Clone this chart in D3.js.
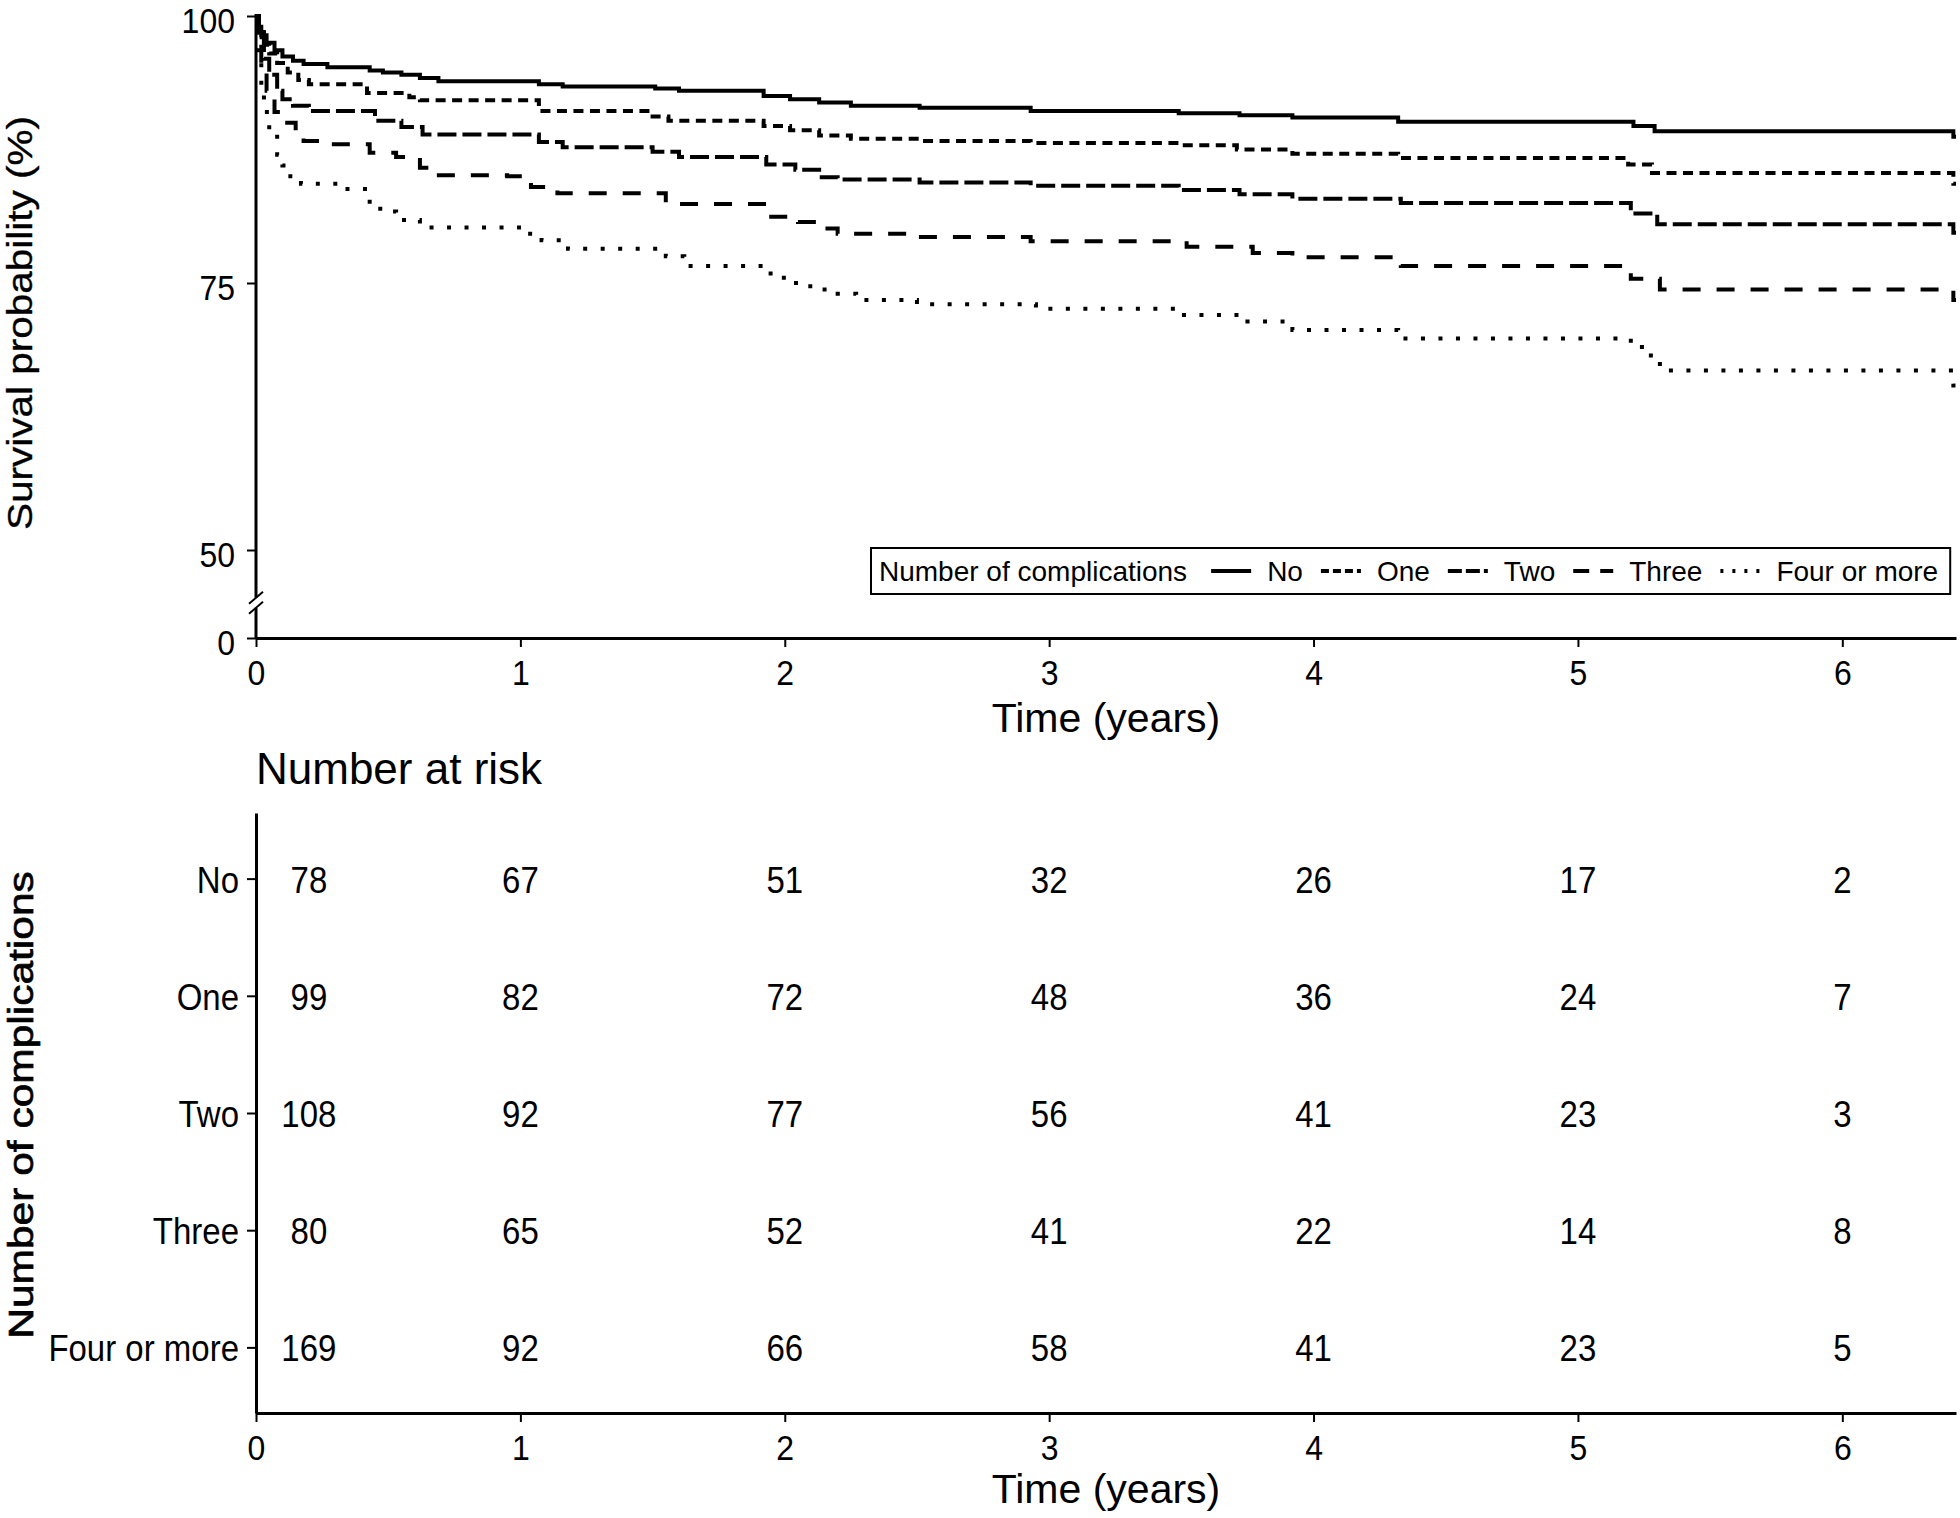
<!DOCTYPE html>
<html>
<head>
<meta charset="utf-8">
<script src="https://cdn.jsdelivr.net/npm/d3@7"></script>
<style>
  html, body { margin: 0; padding: 0; background: #fff; }
  svg { display: block; }
  text { font-family: "Liberation Sans", Arial, sans-serif; fill: #000; }
</style>
</head>
<body>
<svg id="chart" width="1960" height="1518"></svg>
<script>
// ---------------- DATA ----------------
const groups = ["No", "One", "Two", "Three", "Four or more"];
const xTicks = [0, 1, 2, 3, 4, 5, 6];
const yTicks = [0, 50, 75, 100];
const maxTime = 6.43;

const timesNo = [0, 0.01, 0.02, 0.04, 0.07, 0.10, 0.14, 0.18, 0.27, 0.43, 0.48, 0.55, 0.62, 0.69, 1.07, 1.16, 1.51, 1.60, 1.92, 2.02, 2.13, 2.25, 2.51, 2.93, 3.49, 3.72, 3.92, 4.32, 5.21, 5.29, 6.42];
const survNo  = [100, 99.0, 98.2, 97.5, 96.8, 96.2, 95.8, 95.5, 95.2, 94.9, 94.7, 94.5, 94.2, 93.9, 93.6, 93.4, 93.2, 93.0, 92.5, 92.2, 91.9, 91.6, 91.4, 91.1, 90.9, 90.7, 90.5, 90.1, 89.7, 89.2, 88.7];

const timesOne = [0, 0.01, 0.03, 0.05, 0.08, 0.12, 0.16, 0.20, 0.42, 0.58, 0.62, 1.07, 1.50, 1.56, 1.92, 2.02, 2.13, 2.25, 2.51, 2.93, 3.49, 3.71, 3.92, 4.32, 5.19, 5.28, 6.42];
const survOne  = [100, 98.5, 97.3, 96.5, 95.6, 94.7, 94.0, 93.6, 92.8, 92.4, 92.1, 91.1, 90.6, 90.2, 89.7, 89.3, 88.8, 88.5, 88.3, 88.1, 87.9, 87.5, 87.1, 86.7, 86.1, 85.3, 84.3];

const timesTwo = [0, 0.01, 0.03, 0.05, 0.08, 0.10, 0.14, 0.20, 0.45, 0.55, 0.63, 1.07, 1.16, 1.50, 1.60, 1.93, 2.04, 2.13, 2.20, 2.51, 2.93, 3.49, 3.72, 3.92, 4.33, 5.20, 5.30, 6.42];
const survTwo  = [100, 98.0, 96.0, 94.5, 93.0, 92.2, 91.6, 91.1, 90.2, 89.6, 88.9, 88.2, 87.7, 87.3, 86.8, 86.1, 85.6, 84.9, 84.7, 84.4, 84.1, 83.7, 83.3, 82.9, 82.5, 81.5, 80.5, 79.7];

const timesThree = [0, 0.01, 0.02, 0.04, 0.07, 0.10, 0.15, 0.18, 0.27, 0.43, 0.53, 0.62, 0.66, 0.95, 1.04, 1.14, 1.55, 1.93, 2.05, 2.14, 2.20, 2.50, 2.93, 3.52, 3.77, 3.92, 4.33, 5.20, 5.31, 6.42];
const survThree  = [100, 97.5, 95.0, 93.0, 91.0, 90.0, 88.8, 88.3, 88.0, 87.2, 86.8, 85.8, 85.1, 85.0, 84.0, 83.4, 82.4, 81.2, 80.7, 80.1, 79.6, 79.3, 78.9, 78.4, 77.8, 77.4, 76.6, 75.4, 74.4, 73.4];

const timesFour = [0, 0.01, 0.02, 0.03, 0.05, 0.08, 0.10, 0.13, 0.17, 0.30, 0.42, 0.47, 0.53, 0.62, 1.02, 1.08, 1.18, 1.55, 1.62, 1.92, 1.98, 2.03, 2.08, 2.13, 2.20, 2.27, 2.50, 2.95, 3.50, 3.75, 3.92, 4.32, 5.20, 5.25, 5.31, 6.42];
const survFour  = [100, 96.0, 93.0, 91.0, 89.0, 87.0, 86.0, 85.0, 84.3, 83.8, 82.6, 81.7, 80.9, 80.2, 79.6, 79.0, 78.2, 77.5, 76.6, 75.9, 75.5, 75.0, 74.7, 74.4, 74.0, 73.4, 73.0, 72.6, 72.0, 71.4, 70.6, 69.8, 69.0, 68.2, 66.8, 65.4];

const riskTimes = [0, 1, 2, 3, 4, 5, 6];
const riskNo    = [78, 67, 51, 32, 26, 17, 2];
const riskOne   = [99, 82, 72, 48, 36, 24, 7];
const riskTwo   = [108, 92, 77, 56, 41, 23, 3];
const riskThree = [80, 65, 52, 41, 22, 14, 8];
const riskFour  = [169, 92, 66, 58, 41, 23, 5];

// ---------------- STYLE ----------------
const dashCurve  = ["none", "10,6.5", "19,6", "18,16", "4,13.5"];
const dashLegend = ["none", "8,4", "14,4", "16,11", "3,9"];
const SY = 1.12;            // vertical stretch of small labels
const FONT = '"Liberation Sans", Arial, sans-serif';

const seriesTimes = [timesNo, timesOne, timesTwo, timesThree, timesFour];
const seriesSurv  = [survNo, survOne, survTwo, survThree, survFour];
const riskRows    = [riskNo, riskOne, riskTwo, riskThree, riskFour];

const svg = d3.select("#chart");

// place a text with its baseline at (x, b), stretched vertically
function stretchAt(sel, xx, b, sy) {
  sel.attr("x", 0).attr("y", 0).attr("dy", null)
     .attr("transform", `translate(${xx},${b}) scale(1,${sy})`);
}

// ---------------- TOP PLOT ----------------
const x = d3.scaleLinear().domain([0, maxTime]).range([256, 1956]);
const y = d3.scaleLinear().domain([0, 50, 100]).range([638, 550, 16]);

const line = d3.line()
  .x(d => x(d[0]))
  .y(d => y(d[1]))
  .curve(d3.curveStepAfter);

const curvesG = svg.append("g");
seriesTimes.forEach((ts, i) => {
  const pts = ts.map((t, j) => [t, seriesSurv[i][j]]);
  pts.push([maxTime, seriesSurv[i][seriesSurv[i].length - 1]]);
  curvesG.append("path")
    .datum(pts)
    .attr("d", line)
    .attr("fill", "none")
    .attr("stroke", "#000")
    .attr("stroke-width", 4)
    .attr("stroke-dasharray", dashCurve[i]);
});

// x axis (top plot)
const xAxisTop = svg.append("g")
  .attr("transform", `translate(0,${y(0)})`)
  .call(d3.axisBottom(x).tickValues(xTicks).tickFormat(d3.format("d")).tickSize(9).tickSizeOuter(0));

// y axis with break
const yAxis = svg.append("g")
  .attr("transform", `translate(${x(0)},0)`)
  .call(d3.axisLeft(y).tickValues(yTicks).tickFormat(d3.format("d")).tickSize(9).tickSizeOuter(0));
yAxis.select(".domain").remove();
const breakY = y(50) + (y(0) - y(50)) * 0.6;
const x0 = x(0);
svg.append("line").attr("x1", x0).attr("x2", x0).attr("y1", y(100) - 2).attr("y2", breakY - 5)
  .attr("stroke", "#000").attr("stroke-width", 3);
svg.append("line").attr("x1", x0).attr("x2", x0).attr("y1", breakY + 5).attr("y2", y(0))
  .attr("stroke", "#000").attr("stroke-width", 3);
[-5, 5].forEach(dy => {
  svg.append("line")
    .attr("x1", x0 - 7).attr("y1", breakY + dy + 6)
    .attr("x2", x0 + 7).attr("y2", breakY + dy - 6)
    .attr("stroke", "#000").attr("stroke-width", 2);
});

// axis titles
const xMid = (x.range()[0] + x.range()[1]) / 2;
svg.append("text")
  .attr("x", xMid)
  .attr("y", 732)
  .attr("text-anchor", "middle")
  .style("font-size", "41px")
  .text("Time (years)");

svg.append("text")
  .attr("transform", `translate(32,323) rotate(-90) scale(1,0.86)`)
  .attr("text-anchor", "middle")
  .style("font-size", "40.5px")
  .style("stroke", "#000").style("stroke-width", "0.4px")
  .text("Survival probability (%)");

// legend
const legend = svg.append("g");
const legY = 571;
let cx = 879;
const legText = (txt, xx) => legend.append("text")
  .attr("x", xx).attr("y", legY + 10)
  .style("font-size", "28px")
  .text(txt);
const t0 = legText("Number of complications", cx);
cx += t0.node().getComputedTextLength() + 24;
groups.forEach((g, i) => {
  legend.append("line")
    .attr("x1", cx).attr("x2", cx + 40)
    .attr("y1", legY).attr("y2", legY)
    .attr("stroke", "#000").attr("stroke-width", 4)
    .attr("stroke-dasharray", dashLegend[i]);
  cx += 40 + 16;
  const tt = legText(g, cx);
  cx += tt.node().getComputedTextLength() + (i < groups.length - 1 ? 18 : 12);
});
legend.insert("rect", ":first-child")
  .attr("x", 871).attr("y", 548)
  .attr("width", cx - 871).attr("height", 46)
  .attr("fill", "#fff").attr("stroke", "#000").attr("stroke-width", 2);

// ---------------- RISK TABLE ----------------
const rowY = d3.scalePoint().domain(groups).range([813, 1413]).padding(0.56);

svg.append("text")
  .attr("x", x(0)).attr("y", 784)
  .style("font-size", "44px")
  .text("Number at risk");

const tblY = svg.append("g")
  .attr("transform", `translate(${x(0)},0)`)
  .call(d3.axisLeft(rowY).tickSize(9).tickSizeOuter(0));

const tblX = svg.append("g")
  .attr("transform", `translate(0,${rowY.range()[1]})`)
  .call(d3.axisBottom(x).tickValues(xTicks).tickFormat(d3.format("d")).tickSize(9).tickSizeOuter(0));

const firstColTime = 0.2; // first column is drawn slightly right of the axis
groups.forEach((g, i) => {
  svg.append("g").selectAll("text")
    .data(riskTimes.map((t, j) => ({ t, n: riskRows[i][j] })))
    .join("text")
    .attr("text-anchor", "middle")
    .style("font-size", "33px")
    .text(d => d.n)
    .each(function(d) {
      stretchAt(d3.select(this), x(d.t === 0 ? firstColTime : d.t), rowY(g) + 14, SY);
    });
});

svg.append("text")
  .attr("x", xMid)
  .attr("y", 1503)
  .attr("text-anchor", "middle")
  .style("font-size", "41px")
  .text("Time (years)");

svg.append("text")
  .attr("transform", `translate(33,1105) rotate(-90) scale(1,0.84)`)
  .attr("text-anchor", "middle")
  .style("font-size", "42.5px")
  .style("stroke", "#000").style("stroke-width", "0.8px")
  .text("Number of complications");

// axis styling
[xAxisTop, yAxis, tblY, tblX].forEach(a => {
  a.selectAll(".domain").attr("stroke", "#000").attr("stroke-width", 3);
  a.selectAll(".tick line").attr("stroke", "#000").attr("stroke-width", 2);
  a.selectAll(".tick text").style("font-size", "32px").style("font-family", FONT).attr("fill", "#000");
});
tblY.selectAll(".tick text").style("font-size", "33px");

// tick label placement (baselines)
[xAxisTop, tblX].forEach(a => a.selectAll(".tick text").each(function() {
  stretchAt(d3.select(this), 0, 47, SY);
}));
yAxis.selectAll(".tick text").each(function() {
  stretchAt(d3.select(this), -21, 16, SY);
});
tblY.selectAll(".tick text").each(function() {
  stretchAt(d3.select(this), -17, 13.5, SY);
});
</script>
</body>
</html>
